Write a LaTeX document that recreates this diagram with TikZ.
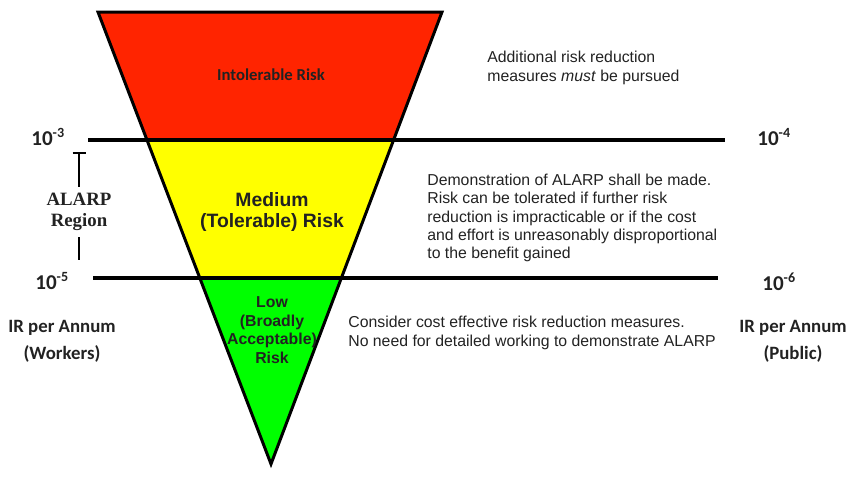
\documentclass[tikz,border=0pt]{standalone}
\usepackage{fontspec}
\setmainfont{Liberation Sans}
\newfontfamily\calfont{Carlito}
\newfontfamily\timesfont{Liberation Serif}
\usetikzlibrary{arrows.meta,positioning}
\definecolor{riskred}{HTML}{FF2400}
\definecolor{riskyellow}{HTML}{FFFF00}
\definecolor{riskgreen}{HTML}{00FF00}
\definecolor{inkgray}{HTML}{222222}
\tikzset{
  zone/.style={font=\bfseries\fontsize{11}{12}\selectfont, align=center, text=inkgray},
  lowzone/.style={font=\bfseries\fontsize{9}{10.6}\selectfont, align=center, text=inkgray},
  note/.style={font=\fontsize{9}{10.4}\selectfont, align=left, anchor=west, inner sep=0pt, text=inkgray},
  freq/.style={font=\calfont\bfseries\fontsize{12}{14}\selectfont, anchor=west, inner sep=0pt, text=inkgray},
  axislab/.style={font=\calfont\bfseries\fontsize{10.7}{15.3}\selectfont, align=center, text=inkgray},
  band/.style={line width=2.2pt},
  bracket/.style={line width=1.1pt},
}

\begin{document}
\begin{tikzpicture}[x=0.2mm, y=-0.2mm]
    \useasboundingbox (0,0) rectangle (856,482);
    \coordinate (tl) at (98,12); \coordinate (tr) at (442,12); \coordinate (ap) at (271,464);
    \coordinate (l3) at (88,140); \coordinate (r4) at (725,140);
    \coordinate (l5) at (93,278); \coordinate (r6) at (718,278);
    \begin{scope}
      \clip (tl) -- (tr) -- (ap) -- cycle;
      \fill[riskred] (0,0) rectangle (856,140);
      \fill[riskyellow] (0,140) rectangle (856,278);
      \fill[riskgreen] (0,278) rectangle (856,482);
    \end{scope}
    \draw[band] (l3) -- (r4); \draw[band] (l5) -- (r6);
    \draw[line width=1.7pt, line join=miter] (tl) -- (tr) -- (ap) -- cycle;
    \node[font=\calfont\bfseries\fontsize{9.5}{11}\selectfont, text=inkgray] (intol) at (271,75) {Intolerable Risk};
    \node[zone] (med) at (272,212) {Medium\\(Tolerable) Risk};
    \node[lowzone] (low) at (272,330) {Low\\(Broadly\\Acceptable)\\Risk};
    \node[note] (n1) at (487,68) {Additional risk reduction\\measures \textit{must} be pursued};
    \node[note] (n2) at (427,218) {Demonstration of ALARP shall be made.\\Risk can be tolerated if further risk\\reduction is impracticable or if the cost\\and effort is unreasonably disproportional\\to the benefit gained};
    \node[note] (n3) at (348,333) {Consider cost effective risk reduction measures.\\No need for detailed working to demonstrate ALARP};
    \node[freq] (f3) at (31,137) {10\textsuperscript{-3}};
    \node[freq] (f4) at (757,137) {10\textsuperscript{-4}};
    \node[freq] (f5) at (35,281) {10\textsuperscript{-5}};
    \node[freq] (f6) at (762,282) {10\textsuperscript{-6}};
    \node[font=\timesfont\bfseries\fontsize{10.7}{12}\selectfont, align=center, text=inkgray] (alarp) at (79,212) {ALARP\\Region};
    \coordinate (bt) at (79,152); \coordinate (bb) at (79,260);
    \draw[bracket, {Bar[width=2.6mm]}-] (bt) -- (alarp.north);
    \draw[bracket] (alarp.south) -- (bb);
    \node[axislab] (work) at (62,341) {IR per Annum\\(Workers)};
    \node[axislab] (pub) at (793,341) {IR per Annum\\(Public)};
  \end{tikzpicture}
\end{document}
